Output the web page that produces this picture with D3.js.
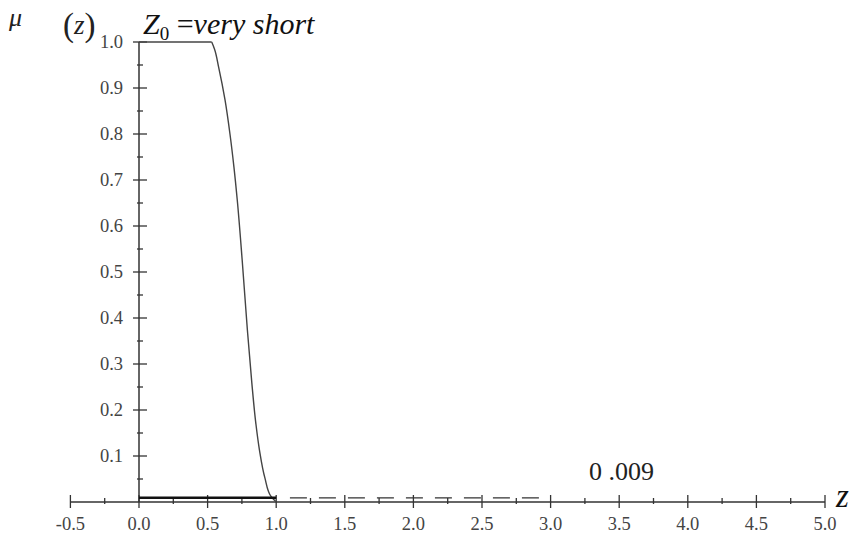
<!DOCTYPE html>
<html><head><meta charset="utf-8">
<script src="https://cdn.jsdelivr.net/npm/d3@7"></script>
<style>body{margin:0;background:#fff}svg{display:block}</style>
</head><body>
<svg id="c" width="862" height="536"></svg>
<script>
const zValues  = [0, 0.53, 0.55, 0.58, 0.627, 0.663, 0.692, 0.716, 0.752, 0.790, 0.822, 0.852, 0.878, 0.918, 0.962, 1.0];
const muValues = [1, 1, 0.985, 0.946, 0.874, 0.80, 0.728, 0.657, 0.526, 0.374, 0.26, 0.17, 0.113, 0.052, 0.012, 0];
const floorValue = 0.009;
const floorSolid = [0, 1.0];
const floorDashed = [1.1, 3.0];
const xTicks = [-0.5, 0.0, 0.5, 1.0, 1.5, 2.0, 2.5, 3.0, 3.5, 4.0, 4.5, 5.0];
const yTicks = [0.1, 0.2, 0.3, 0.4, 0.5, 0.6, 0.7, 0.8, 0.9, 1.0];

const svg = d3.select("#c");
const x = d3.scaleLinear().domain([0, 5]).range([139, 825]);
const y = d3.scaleLinear().domain([0, 1]).range([502, 42]);
const ink = "#333";
const serif = "'Times New Roman','Liberation Serif',serif";

// x axis
const xMinor = d3.range(-0.5, 5.0001, 0.25).filter(v => Math.abs(v*2 - Math.round(v*2)) > 1e-6);
const gx = svg.append("g");
gx.append("line").attr("x1", x(-0.5)).attr("x2", x(5)).attr("y1", y(0)).attr("y2", y(0))
  .attr("stroke", ink).attr("stroke-width", 1.5);
gx.selectAll(".mj").data(xTicks).join("line")
  .attr("x1", d => x(d)).attr("x2", d => x(d)).attr("y1", y(0)-7).attr("y2", y(0)+6)
  .attr("stroke", ink).attr("stroke-width", 1.3);
gx.selectAll(".mn").data(xMinor).join("line")
  .attr("x1", d => x(d)).attr("x2", d => x(d)).attr("y1", y(0)-4).attr("y2", y(0)+2)
  .attr("stroke", ink).attr("stroke-width", 1.3);
gx.selectAll("text").data(xTicks).join("text")
  .attr("x", d => x(d)).attr("y", 530).attr("text-anchor", "middle")
  .attr("font-family", serif).attr("font-size", 18.5).attr("fill", "#444")
  .text(d => d.toFixed(1));

// y axis
const yMinor = d3.range(0.05, 1.0, 0.1);
const gy = svg.append("g");
gy.append("line").attr("x1", x(0)).attr("x2", x(0)).attr("y1", y(0)).attr("y2", y(1))
  .attr("stroke", ink).attr("stroke-width", 1.5);
gy.selectAll(".mj").data(yTicks).join("line")
  .attr("x1", x(0)-6).attr("x2", x(0)+8).attr("y1", d => y(d)).attr("y2", d => y(d))
  .attr("stroke", ink).attr("stroke-width", 1.3);
gy.selectAll(".mn").data(yMinor).join("line")
  .attr("x1", x(0)-2).attr("x2", x(0)+4).attr("y1", d => y(d)).attr("y2", d => y(d))
  .attr("stroke", ink).attr("stroke-width", 1.3);
gy.selectAll("text").data(yTicks).join("text")
  .attr("x", 123).attr("y", d => y(d) + 6).attr("text-anchor", "end")
  .attr("font-family", serif).attr("font-size", 18.5).attr("fill", "#444")
  .text(d => d.toFixed(1));

// membership curve: flat top then monotone decline
const pts = zValues.map((z, i) => [z, muValues[i]]);
const lineLin = d3.line().x(d => x(d[0])).y(d => y(d[1]));
svg.append("path").datum(pts.slice(0, 2))
  .attr("d", lineLin)
  .attr("fill", "none").attr("stroke", "#444").attr("stroke-width", 1.4);
svg.append("path").datum(pts.slice(1))
  .attr("d", d3.line().x(d => x(d[0])).y(d => y(d[1])).curve(d3.curveMonotoneY))
  .attr("fill", "none").attr("stroke", "#444").attr("stroke-width", 1.4);

// floor value line
svg.append("line").attr("x1", x(floorSolid[0])).attr("x2", x(floorSolid[1]))
  .attr("y1", y(floorValue)).attr("y2", y(floorValue))
  .attr("stroke", "#111").attr("stroke-width", 2.5);
svg.append("line").attr("x1", x(floorDashed[0])).attr("x2", x(floorDashed[1]))
  .attr("y1", y(floorValue)).attr("y2", y(floorValue))
  .attr("stroke", "#333").attr("stroke-width", 1.3).attr("stroke-dasharray", "17,12");

// annotations
svg.append("text").attr("x", 589).attr("y", 480)
  .attr("font-family", serif).attr("font-size", 26).attr("fill", "#222")
  .text("0 .009");

svg.append("text").attr("x", 836).attr("y", 507)
  .attr("font-family", serif).attr("font-style", "italic").attr("font-size", 33).attr("fill", "#111")
  .text("z");

svg.append("text").attr("x", 9).attr("y", 26)
  .attr("font-family", serif).attr("font-style", "italic").attr("font-size", 26).attr("fill", "#222")
  .text("μ");
svg.append("text").attr("x", 63).attr("y", 36)
  .attr("font-family", serif).attr("font-size", 33).attr("fill", "#222")
  .call(t => {
    t.append("tspan").text("(");
    t.append("tspan").attr("font-style", "italic").attr("font-size", 27).attr("dy", -2).text("z");
    t.append("tspan").attr("dy", 2).text(")");
  });

const title = svg.append("text").attr("x", 143).attr("y", 34)
  .attr("font-family", serif).attr("font-size", 30).attr("fill", "#111");
title.append("tspan").attr("font-style", "italic").text("Z");
title.append("tspan").attr("font-size", 19).attr("dy", 6).text("0");
title.append("tspan").attr("dy", -6).text(" =");
title.append("tspan").attr("font-style", "italic").text("very short");
</script>
</body></html>
